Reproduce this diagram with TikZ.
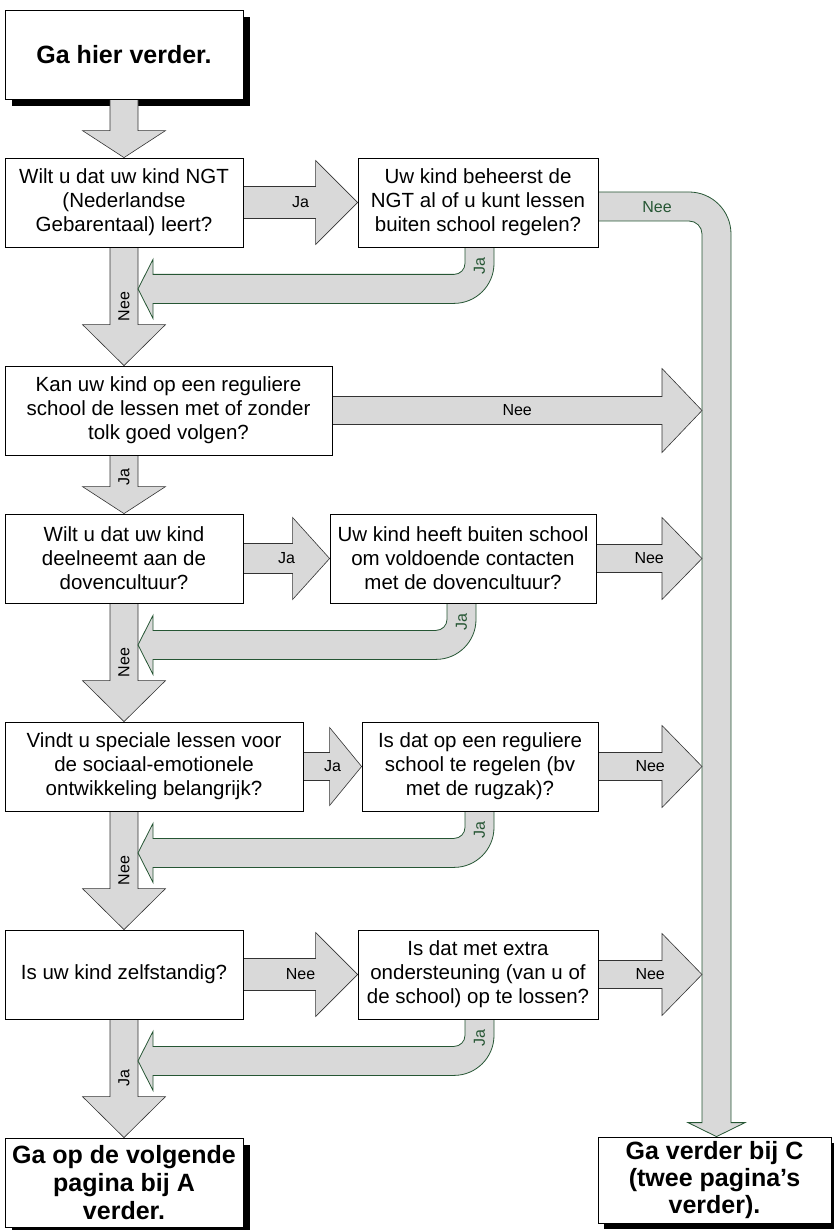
\documentclass[tikz,border=0pt]{standalone}
\usepackage{fontspec}
\setmainfont{Liberation Sans}
\usetikzlibrary{calc}
\definecolor{agrey}{RGB}{217,217,217}
\definecolor{pgreen}{RGB}{38,86,52}
\pgfdeclarelayer{bg}
\pgfsetlayers{bg,main}
\tikzset{
 box/.style={draw=black, line width=0.8pt, fill=white, inner sep=0pt, align=center, font=\fontsize{20.5}{24}\selectfont},
 endbox/.style={box, font=\fontsize{25}{28}\selectfont\bfseries},
 arr/.style={fill=agrey, draw=black!80, line width=0.6pt},
 pipe/.style={fill=agrey, draw=pgreen, line width=0.8pt},
 lbl/.style={font=\fontsize{16}{18}\selectfont, inner sep=0pt, text=black},
 plbl/.style={lbl, text=pgreen},
}
\newcommand\darr[5]{%
 \filldraw[arr] let \p1=(#1), \p2=(#2) in
 (\x1-14pt,\y1) -- (\x1-14pt,\y2+#3pt) -- (\x1-41.5pt,\y2+#3pt) -- (\x1,\y2) -- (\x1+41.5pt,\y2+#3pt) -- (\x1+14pt,\y2+#3pt) -- (\x1+14pt,\y1)
 node[lbl,rotate=90] at (\x1,{\y1+#5*(\y2-(\y1))}) {#4};
}
\newcommand\rarr[6]{%
 \filldraw[arr] let \p1=(#1), \p2=(#2) in
 (\x1,\y1+#4pt) -- (\x2-#3pt,\y1+#4pt) -- (\x2-#3pt,\y1+#5pt) -- (\x2,\y1) -- (\x2-#3pt,\y1-#5pt) -- (\x2-#3pt,\y1-#4pt) -- (\x1,\y1-#4pt)
 node[lbl] at ({(\x1+\x2)/2},\y1) {#6};
}
\newcommand\retp[2]{%
 \filldraw[pipe] let \p1=(#1.south), \p2=(spine) in
 (#2pt,\y1) -- (#2pt,\y1-16pt) arc[start angle=0,end angle=-90,radius=11pt] -- (\x2+15pt,\y1-27pt) -- (\x2+15pt,\y1-12pt) -- (\x2,\y1-41.5pt) -- (\x2+15pt,\y1-71pt) -- (\x2+15pt,\y1-56pt) -- (#2pt-11pt,\y1-56pt) arc[start angle=-90,end angle=0,radius=40pt] -- (#2pt+29pt,\y1)
 node[plbl,rotate=90] at (#2pt+14.5pt,\y1-19pt) {Ja};
}
\begin{document}
\begin{tikzpicture}[x=1pt,y=1pt]
\useasboundingbox (0,0) rectangle (833,-1230);
% boxes
\node[endbox, minimum width=238pt, minimum height=89pt] (s) at (124,-54.5) {Ga hier verder.};
\node[box, minimum width=238pt, minimum height=89pt] (b1) at (124,-202.5) {Wilt u dat uw kind NGT\\(Nederlandse\\Gebarentaal) leert?};
\node[box, minimum width=240pt, minimum height=89pt] (b2) at (478,-202.5) {Uw kind beheerst de\\NGT al of u kunt lessen\\buiten school regelen?};
\node[box, minimum width=327pt, minimum height=89pt] (b3) at (168.5,-410.5) {Kan uw kind op een reguliere\\school de lessen met of zonder\\tolk goed volgen?};
\node[box, minimum width=238pt, minimum height=89pt] (b4) at (124,-558.5) {Wilt u dat uw kind\\deelneemt aan de\\dovencultuur?};
\node[box, minimum width=266pt, minimum height=89pt] (b4r) at (463,-558.5) {Uw kind heeft buiten school\\om voldoende contacten\\met de dovencultuur?};
\node[box, minimum width=298pt, minimum height=89pt] (b5) at (154,-766.5) {Vindt u speciale lessen voor\\de sociaal-emotionele\\ontwikkeling belangrijk?};
\node[box, minimum width=236pt, minimum height=89pt] (b5r) at (480,-766.5) {Is dat op een reguliere\\school te regelen (bv\\met de rugzak)?};
\node[box, minimum width=238pt, minimum height=89pt] (b6) at (124,-974.5) {Is uw kind zelfstandig?};
\node[box, minimum width=240pt, minimum height=89pt] (b6r) at (478,-974.5) {Is dat met extra\\ondersteuning (van u of\\de school) op te lossen?};
\node[endbox, minimum width=238pt, minimum height=89pt] (eA) at (124,-1182.5) {Ga op de volgende\\pagina bij A\\verder.};
\node[endbox, font=\fontsize{25}{27}\selectfont\bfseries, minimum width=233pt, minimum height=86pt] (eC) at (714.5,-1180) {Ga verder bij C\\(twee pagina’s\\verder).};
\coordinate (pl) at (702,-600);
\coordinate (spine) at (138,-600);
\begin{pgfonlayer}{bg}
% shadows
\fill[black] ($(s.south west)+(7,-7)$) rectangle ($(s.north east)+(7,-7)$);
\fill[black] ($(eA.south west)+(7,-7)$) rectangle ($(eA.north east)+(7,-7)$);
\fill[black] ($(eC.south west)+(6,-6)$) rectangle ($(eC.north east)+(6,-6)$);
% big Nee pipe to C
\filldraw[pipe] let \p1=(b2.east), \p2=(eC.north) in
 (\x1,-192) -- (689,-192) arc[start angle=90,end angle=0,radius=42pt] -- (731,\y2+14pt) -- (745,\y2+14pt) -- (716.5,\y2) -- (688,\y2+14pt) -- (702,\y2+14pt) -- (702,-234) arc[start angle=0,end angle=90,radius=13pt] -- (\x1,-221);
\node[plbl] (neepipe) at (657,-207) {Nee};
% down arrows
\darr{s.south}{b1.north}{27}{}{0.5}
\darr{b1.south}{b3.north}{41}{Nee}{0.5}
\darr{b3.south -| b4.north}{b4.north}{27}{Ja}{0.38}
\darr{b4.south}{b5.north}{41}{Nee}{0.5}
\darr{b5.south -| b6.north}{b6.north}{41}{Nee}{0.5}
\darr{b6.south}{eA.north}{41}{Ja}{0.5}
% right arrows
\rarr{b1.east}{b2.west}{42}{16}{42}{Ja}
\rarr{b3.east}{pl}{40}{14}{42}{Nee}
\rarr{b4.east}{b4r.west}{37}{15}{41}{Ja}
\rarr{b4r.east}{pl}{40}{14}{41}{Nee}
\rarr{b5.east}{b5r.west}{32}{14}{39}{Ja}
\rarr{b5r.east}{pl}{40}{14}{41}{Nee}
\rarr{b6.east}{b6r.west}{42}{16}{42}{Nee}
\rarr{b6r.east}{pl}{40}{14}{41}{Nee}
% return pipes
\retp{b2}{465}
\retp{b4r}{447}
\retp{b5r}{465}
\retp{b6r}{465}
\end{pgfonlayer}
\end{tikzpicture}
\end{document}
